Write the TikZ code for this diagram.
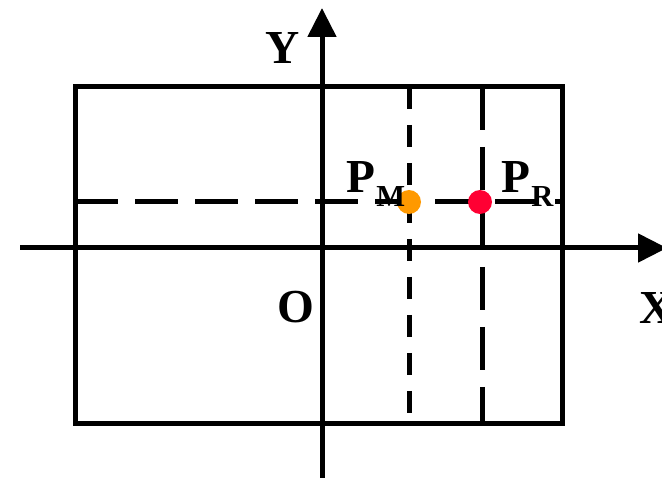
\documentclass[tikz,border=0pt]{standalone}
\usepackage{fontspec}
\setmainfont{Liberation Serif}
\usetikzlibrary{arrows.meta}
\definecolor{ptorange}{RGB}{255,153,0}
\definecolor{ptred}{RGB}{255,0,51}
\tikzset{
  thick line/.style={line width=3.75pt},
  axis/.style={thick line,-{Triangle[length=21.75pt,width=21pt]}},
  longdash/.style={thick line,dash pattern=on 32.25pt off 12.75pt},
  shortdash/.style={thick line,dash pattern=on 16.5pt off 12pt},
  big label/.style={inner sep=0pt,font=\bfseries\fontsize{35.5}{36}\selectfont},
  sub label/.style={inner sep=0pt,font=\bfseries\fontsize{22.9}{23}\selectfont},
  pt dot/.style={circle,inner sep=0pt,minimum size=18pt}
}
\begin{document}
\begin{tikzpicture}[x=0.75pt,y=-0.75pt]
\useasboundingbox (0,0) rectangle (662,478);
\clip (0,0) rectangle (662,478);
\fill[white] (0,0) rectangle (662,478);
% coordinates
\coordinate (tl) at (75,87);
\coordinate (br) at (562,424);
\coordinate (hl) at (75,202);
\coordinate (hr) at (562,202);
\coordinate (mt) at (409,87);
\coordinate (mb) at (409,424);
\coordinate (rt) at (482,87);
\coordinate (rb) at (482,424);
\coordinate (xs) at (20,248);
\coordinate (xe) at (667,248);
\coordinate (ys) at (322,478);
\coordinate (ye) at (322,8);
% dashed lines
\draw[longdash] (hl) -- (hr);
\draw[shortdash] (mt) -- (mb);
\draw[longdash] (rt) -- (rb);
% rectangle
\draw[thick line] (tl) rectangle (br);
% axes
\draw[axis] (xs) -- (xe);
\draw[axis] (ys) -- (ye);
% points
\node[pt dot,fill=ptorange] (pm) at (409,202) {};
\node[pt dot,fill=ptred] (pr) at (480,202) {};
% labels
\node[big label,anchor=base] (ylab) at (282.5,64) {Y};
\node[big label,anchor=base] (olab) at (296,323) {O};
\node[big label,anchor=base west] (xlab) at (639,324) {X};
\node[big label,anchor=base west] (pmP) at (346,193) {P};
\node[sub label,anchor=base west] (pmM) at (376,207) {M};
\node[big label,anchor=base west] (prP) at (501,193) {P};
\node[sub label,anchor=base west] (prR) at (531,207) {R};
\end{tikzpicture}
\end{document}
